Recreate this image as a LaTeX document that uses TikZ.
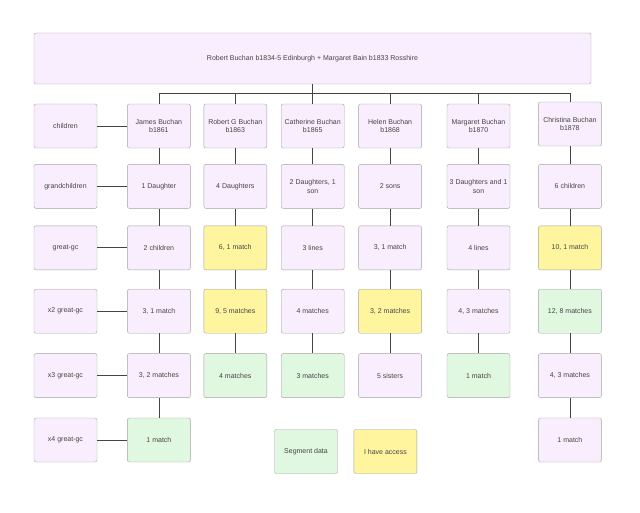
\documentclass[tikz,border=0pt]{standalone}
\usepackage{fontspec}
\setmainfont{Liberation Sans}
\usepackage{tikz}
\usetikzlibrary{positioning,calc}
\definecolor{lilac}{HTML}{F9EEFD}
\definecolor{lemon}{HTML}{FFF59F}
\definecolor{mint}{HTML}{E0F8DF}
\definecolor{edgegray}{HTML}{A3A3A3}
\definecolor{ink}{HTML}{444444}

\begin{document}
\begin{tikzpicture}[
  x=1pt,y=-1pt,
  node distance=18pt and 14pt,
  box/.style={rectangle,rounded corners=2pt,draw=edgegray,fill=lilac,minimum height=44pt,
              minimum width=63pt,inner sep=1pt,align=center,text=ink,font=\fontsize{7}{8.6}\selectfont},
  got/.style={box,fill=lemon},
  seg/.style={box,fill=mint},
  ln/.style={draw=ink,line width=0.8pt}
]
\useasboundingbox (0,0) rectangle (640,512);
\node[box,minimum width=557pt,minimum height=51pt] (top) at (312.5,58.5) {Robert Buchan b1834-5 Edinburgh + Margaret Bain b1833 Rosshire};
% row labels
\node[box] (l1) at (65.5,126) {children};
\node[box,below=16pt of l1] (l2) {grandchildren};
\node[box,below=17pt of l2] (l3) {great-gc};
\node[box,below=19pt of l3] (l4) {x2 great-gc};
\node[box,below=20pt of l4] (l5) {x3 great-gc};
\node[box,below=20pt of l5] (l6) {x4 great-gc};
% James
\node[box,right=30pt of l1] (j1) {James Buchan\\ b1861};
\node[box,below=16pt of j1] (j2) {1 Daughter};
\node[box,below=17pt of j2] (j3) {2 children};
\node[box,below=19pt of j3] (j4) {3, 1 match};
\node[box,below=20pt of j4] (j5) {3, 2 matches};
\node[seg,below=20pt of j5] (j6) {1 match};
% Robert G
\node[box,right=13pt of j1] (r1) {Robert G Buchan\\ b1863};
\node[box,below=16pt of r1] (r2) {4 Daughters};
\node[got,below=17pt of r2] (r3) {6, 1 match};
\node[got,below=19pt of r3] (r4) {9, 5 matches};
\node[seg,below=20pt of r4] (r5) {4 matches};
% Catherine
\node[box,right=of r1] (c1) {Catherine Buchan\\ b1865};
\node[box,below=16pt of c1] (c2) {2 Daughters, 1\\ son};
\node[box,below=17pt of c2] (c3) {3 lines};
\node[box,below=19pt of c3] (c4) {4 matches};
\node[seg,below=20pt of c4] (c5) {3 matches};
% Helen
\node[box,right=of c1] (h1) {Helen Buchan\\ b1868};
\node[box,below=16pt of h1] (h2) {2 sons};
\node[box,below=17pt of h2] (h3) {3, 1 match};
\node[got,below=19pt of h3] (h4) {3, 2 matches};
\node[box,below=20pt of h4] (h5) {5 sisters};
% Margaret
\node[box,right=25pt of h1] (m1) {Margaret Buchan\\ b1870};
\node[box,below=16pt of m1] (m2) {3 Daughters and 1\\ son};
\node[box,below=17pt of m2] (m3) {4 lines};
\node[box,below=19pt of m3] (m4) {4, 3 matches};
\node[seg,below=20pt of m4] (m5) {1 match};
% Christina
\node[box,right=28pt of m1,yshift=2pt] (k1) {Christina Buchan\\ b1878};
\node[box,below=18pt of k1] (k2) {6 children};
\node[got,below=17pt of k2] (k3) {10, 1 match};
\node[seg,below=19pt of k3] (k4) {12, 8 matches};
\node[box,below=20pt of k4] (k5) {4, 3 matches};
\node[box,below=20pt of k5] (k6) {1 match};
% key
\node[seg] (keyseg) at (306,451.5) {Segment data};
\node[got,right=16pt of keyseg] (keyacc) {I have access};
% family tree
\coordinate (bar) at ($(top.south)+(0,9)$);
\draw[ln] (top.south)--(bar);
\draw[ln] (bar) -| (j1.north);
\draw[ln] (bar) -| (r1.north);
\draw[ln] (bar) -| (c1.north);
\draw[ln] (bar) -| (h1.north);
\draw[ln] (bar) -| (m1.north);
\draw[ln] (bar) -| (k1.north);
\draw[ln] (l1)--(j1);
\draw[ln] (l2)--(j2);
\draw[ln] (l3)--(j3);
\draw[ln] (l4)--(j4);
\draw[ln] (l5)--(j5);
\draw[ln] (l6)--(j6);
\draw[ln] (j1)--(j2);
\draw[ln] (j2)--(j3);
\draw[ln] (j3)--(j4);
\draw[ln] (j4)--(j5);
\draw[ln] (j5)--(j6);
\draw[ln] (r1)--(r2);
\draw[ln] (r2)--(r3);
\draw[ln] (r3)--(r4);
\draw[ln] (r4)--(r5);
\draw[ln] (c1)--(c2);
\draw[ln] (c2)--(c3);
\draw[ln] (c3)--(c4);
\draw[ln] (c4)--(c5);
\draw[ln] (h1)--(h2);
\draw[ln] (h2)--(h3);
\draw[ln] (h3)--(h4);
\draw[ln] (h4)--(h5);
\draw[ln] (m1)--(m2);
\draw[ln] (m2)--(m3);
\draw[ln] (m3)--(m4);
\draw[ln] (m4)--(m5);
\draw[ln] (k1)--(k2);
\draw[ln] (k2)--(k3);
\draw[ln] (k3)--(k4);
\draw[ln] (k4)--(k5);
\draw[ln] (k5)--(k6);
\end{tikzpicture}
\end{document}
